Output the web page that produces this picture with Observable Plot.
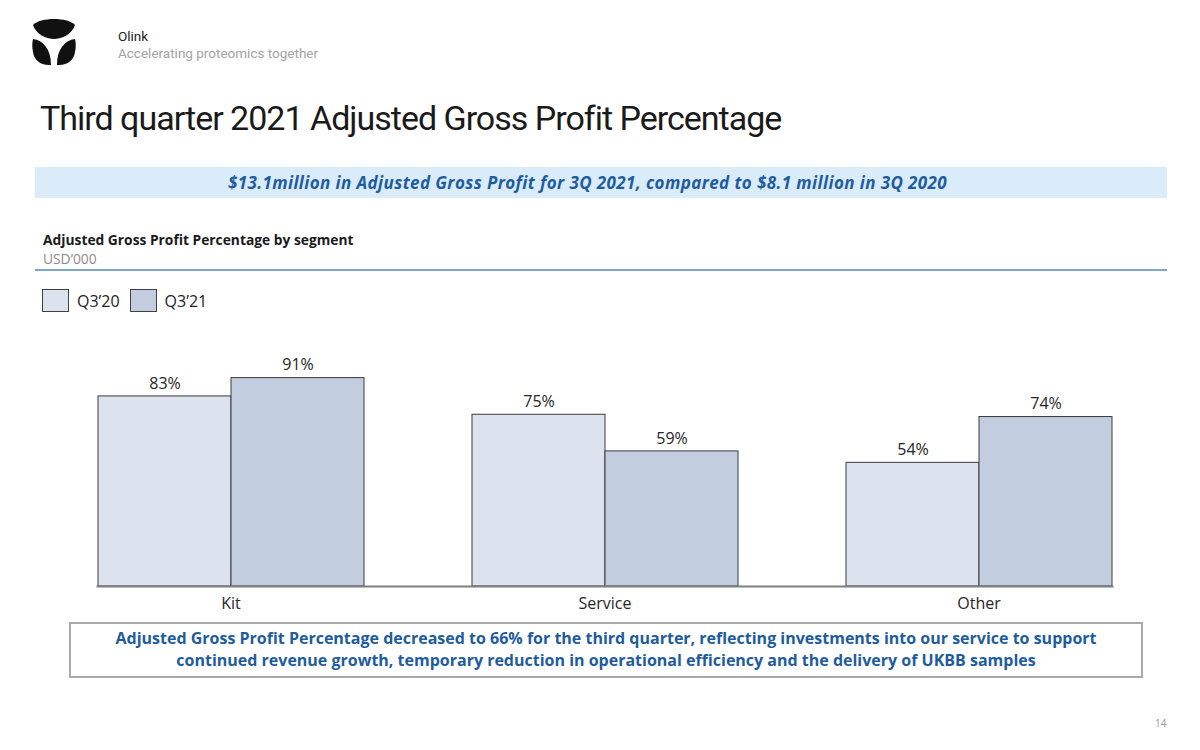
<!DOCTYPE html>
<html>
<head>
<meta charset="utf-8">
<script src="https://cdn.jsdelivr.net/npm/d3@7"></script>
<script src="https://cdn.jsdelivr.net/npm/@observablehq/plot@0.6"></script>
<style>
  html, body { margin: 0; padding: 0; background: #fff; }
  #page { position: relative; width: 1200px; height: 750px; overflow: hidden; font-family: "Open Sans", sans-serif; }
  .abs { position: absolute; }
  #brand1 { left: 118px; top: 28px; font-family: Roboto, sans-serif; font-size: 13.5px; line-height: 16px; color: #222; letter-spacing: 0px; white-space: nowrap; }
  #brand2 { left: 118px; top: 45px; font-family: Roboto, sans-serif; font-size: 13.5px; line-height: 16px; color: #a3a3a3; letter-spacing: 0px; white-space: nowrap; }
  #title { left: 40px; top: 98px; font-family: Roboto, sans-serif; font-size: 34px; color: #1a1a1a; letter-spacing: -1.0px; white-space: nowrap; }
  #banner { left: 35px; top: 167px; width: 1132px; height: 31px; background: #daecf9; }
  #bannerText { left: 35px; top: 172px; width: 1105px; text-align: center; font-size: 17px; line-height: 22px; font-weight: bold; font-style: italic; color: #1e5c9e; white-space: nowrap; letter-spacing: 0.4px; }
  #subTitle { left: 43px; top: 230px; font-size: 13.8px; font-weight: bold; color: #1a1a1a; }
  #unit { left: 43px; top: 249px; font-size: 13.8px; color: #8c8c8c; }
  #sep { left: 35px; top: 269px; width: 1132px; height: 2px; background: #7fa6c9; }
  #legend { left: 42px; top: 289px; display: flex; align-items: center; font-size: 16px; color: #222; }
  .sw { width: 25px; height: 21px; border: 1px solid #404040; margin-right: 8px; }
  .lab { margin-right: 10px; }
  #chart { left: 0; top: 330px; }
  #note { left: 69px; top: 622px; width: 1070px; height: 49px; border: 2px solid #a9a9a9; text-align: center; font-size: 16px; font-weight: bold; color: #1e5c9e; line-height: 22px; padding-top: 3px; box-sizing: content-box; }
  #pageNum { left: 1155px; top: 716px; font-size: 10px; color: #999; }
</style>
</head>
<body>
<div id="page">
  <svg class="abs" style="left:28px;top:18px" width="52" height="50" viewBox="0 0 52 50">
    <path d="M5,7 C12,-1 40,-1 47,7 C44,16 34,21 26,21 C18,21 8,16 5,7 Z" fill="#111"/>
    <path d="M5,21 C15,22 23,31 23,47 C13,48 6,42 5,34 C4,29 4,25 5,21 Z" fill="#111"/>
    <path d="M47,21 C37,22 29,31 29,47 C39,48 46,42 47,34 C48,29 48,25 47,21 Z" fill="#111"/>
  </svg>
  <div id="brand1" class="abs">Olink</div>
  <div id="brand2" class="abs">Accelerating proteomics together</div>
  <div id="title" class="abs">Third quarter 2021 Adjusted Gross Profit Percentage</div>
  <div id="banner" class="abs"></div>
  <div id="bannerText" class="abs">$13.1million in Adjusted Gross Profit for 3Q 2021, compared to $8.1 million in 3Q 2020</div>
  <div id="subTitle" class="abs">Adjusted Gross Profit Percentage by segment</div>
  <div id="unit" class="abs">USD’000</div>
  <div id="sep" class="abs"></div>
  <div id="legend" class="abs"></div>
  <div id="chart" class="abs"></div>
  <div id="note" class="abs">Adjusted Gross Profit Percentage decreased to 66% for the third quarter, reflecting investments into our service to support<br>continued revenue growth, temporary reduction in operational efficiency and the delivery of UKBB samples</div>
  <div id="pageNum" class="abs">14</div>
</div>
<script>
const categories = ["Kit", "Service", "Other"];
const seriesNames = ["Q3’20", "Q3’21"];
const q3_20 = [83, 75, 54];
const q3_21 = [91, 59, 74];
const seriesColors = ["#dde3ee", "#c3cde0"];

const data = [];
categories.forEach((c, i) => {
  data.push({category: c, series: seriesNames[0], value: q3_20[i]});
  data.push({category: c, series: seriesNames[1], value: q3_21[i]});
});

// legend
const legend = document.getElementById("legend");
seriesNames.forEach((s, i) => {
  const sw = document.createElement("div");
  sw.className = "sw";
  sw.style.background = seriesColors[i];
  const lab = document.createElement("div");
  lab.className = "lab";
  lab.textContent = s;
  legend.appendChild(sw);
  legend.appendChild(lab);
});

const chart = Plot.plot({
  width: 1200,
  height: 290,
  marginLeft: 42,
  marginRight: 33,
  marginTop: 27,
  marginBottom: 34,
  style: { fontFamily: "'Open Sans', sans-serif", fontSize: "16px", color: "#262626", background: "transparent" },
  fx: { domain: categories, paddingInner: 0.285, paddingOuter: 0.1427, label: null, axis: "bottom", tickSize: 0, tickPadding: 11 },
  x: { domain: seriesNames, padding: 0, axis: null },
  y: { domain: [0, 100], axis: null },
  color: { domain: seriesNames, range: seriesColors },
  marks: [
    Plot.barY(data, { fx: "category", x: "series", y: "value", fill: "series", stroke: "#3a3a3a", strokeWidth: 1 }),
    Plot.text(data, { fx: "category", x: "series", y: "value", text: d => `${d.value}%`, dy: -13, fontSize: 16, fill: "#262626" }),
    Plot.frame({ facet: "super", anchor: "bottom", stroke: "#7f7f7f", strokeWidth: 2 })
  ]
});
document.getElementById("chart").appendChild(chart);
</script>
</body>
</html>
